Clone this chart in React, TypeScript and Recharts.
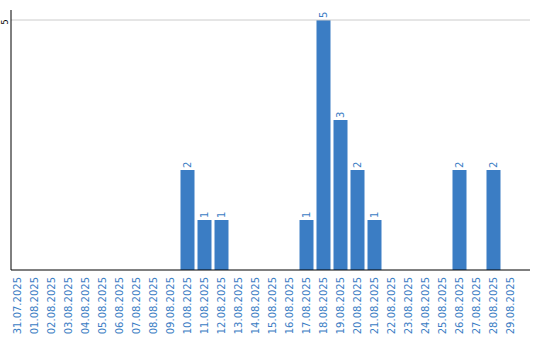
import { BarChart, Bar, XAxis, YAxis, ReferenceLine, LabelList } from 'recharts'

const dates = [
  '31.07.2025', '01.08.2025', '02.08.2025', '03.08.2025', '04.08.2025',
  '05.08.2025', '06.08.2025', '07.08.2025', '08.08.2025', '09.08.2025',
  '10.08.2025', '11.08.2025', '12.08.2025', '13.08.2025', '14.08.2025',
  '15.08.2025', '16.08.2025', '17.08.2025', '18.08.2025', '19.08.2025',
  '20.08.2025', '21.08.2025', '22.08.2025', '23.08.2025', '24.08.2025',
  '25.08.2025', '26.08.2025', '27.08.2025', '28.08.2025', '29.08.2025',
]

const counts = [
  0, 0, 0, 0, 0, 0, 0, 0, 0, 0,
  2, 1, 1, 0, 0, 0, 0, 1, 5, 3,
  2, 1, 0, 0, 0, 0, 2, 0, 2, 0,
]

const yTicks = [5]

const data = dates.map((date, i) => ({ date, count: counts[i] }))

const BLUE = '#3b7dc4'
const FONT = 'DejaVu Sans'

// tick y arrives already 8px below the axis line (tickSize + tickMargin)
const DateTick = ({ x, y, payload }: any) => (
  <g transform={`translate(${x},${y - 1}) rotate(-90)`}>
    <text textAnchor="end" dy="0.35em" fill={BLUE} fontSize={10} fontFamily={FONT}>
      {payload.value}
    </text>
  </g>
)

const CountTick = ({ y, payload }: any) => (
  <g transform={`translate(5,${y + 2}) rotate(-90)`}>
    <text textAnchor="middle" dy="0.35em" fill="#000" fontSize={8} fontFamily={FONT}>
      {payload.value}
    </text>
  </g>
)

const ValueLabel = ({ x, y, width, value }: any) => {
  if (!value) return null
  return (
    <g transform={`translate(${x + width / 2},${y - 2}) rotate(-90)`}>
      <text textAnchor="start" dy="0.35em" fill={BLUE} fontSize={10} fontFamily={FONT}>
        {value}
      </text>
    </g>
  )
}

export default function App() {
  return (
    <div style={{ position: 'absolute', left: 0, top: 0, background: '#fff', fontFamily: FONT }}>
      <BarChart
        width={540}
        height={340}
        data={data}
        margin={{ top: 10, right: 10, bottom: 0, left: 0 }}
        barSize={14}
      >
        {yTicks.map((v) => (
          <ReferenceLine key={v} y={v} stroke="#cccccc" ifOverflow="extendDomain" />
        ))}
        <XAxis
          dataKey="date"
          interval={0}
          height={70}
          tickLine={false}
          axisLine={{ stroke: '#000' }}
          padding={{ left: -2.5, right: 11.5 }}
          tick={<DateTick />}
        />
        <YAxis
          width={11}
          domain={[0, 5.2]}
          ticks={yTicks}
          tickLine={false}
          axisLine={{ stroke: '#000' }}
          tick={<CountTick />}
        />
        <Bar dataKey="count" fill={BLUE} isAnimationActive={false}>
          <LabelList dataKey="count" content={<ValueLabel />} />
        </Bar>
      </BarChart>
    </div>
  )
}
